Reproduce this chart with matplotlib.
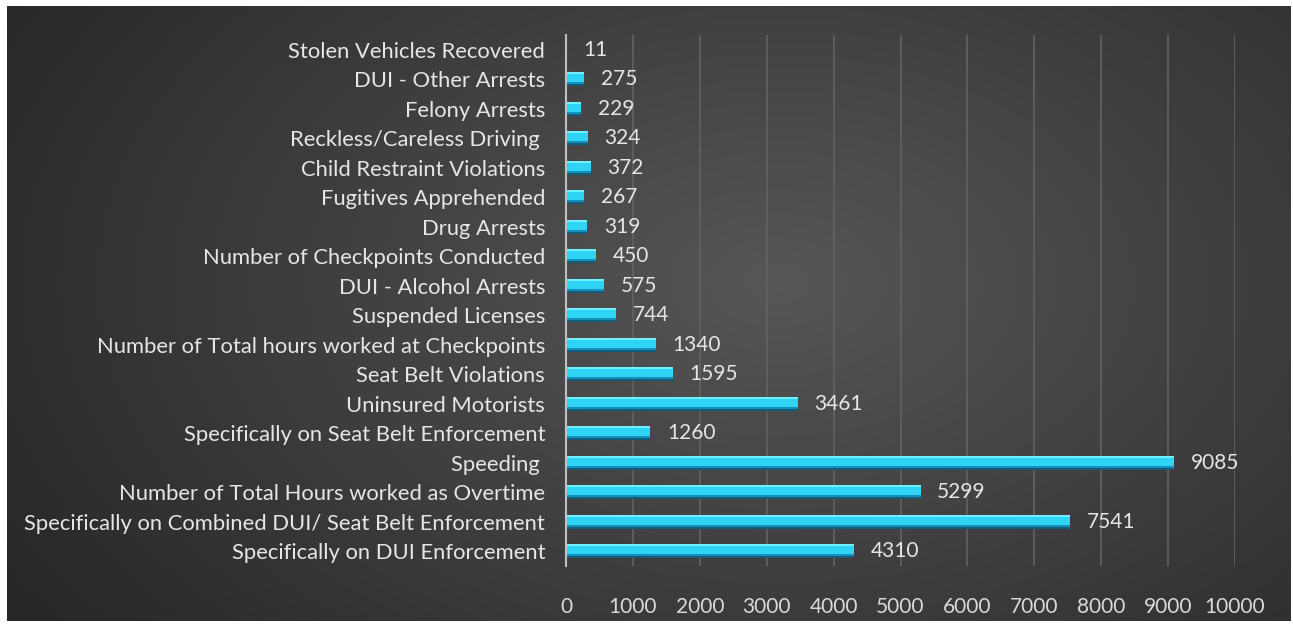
import matplotlib
matplotlib.use("Agg")
from matplotlib import pyplot as plt
import numpy as np

# Data (bottom to top as drawn)
categories = [
    "Specifically on DUI Enforcement",
    "Specifically on Combined DUI/ Seat Belt Enforcement",
    "Number of Total Hours worked as Overtime",
    "Speeding ",
    "Specifically on Seat Belt Enforcement",
    "Uninsured Motorists",
    "Seat Belt Violations",
    "Number of Total hours worked at Checkpoints",
    "Suspended Licenses",
    "DUI - Alcohol Arrests",
    "Number of Checkpoints Conducted",
    "Drug Arrests",
    "Fugitives Apprehended",
    "Child Restraint Violations",
    "Reckless/Careless Driving ",
    "Felony Arrests",
    "DUI - Other Arrests",
    "Stolen Vehicles Recovered",
]
values = [4310, 7541, 5299, 9085, 1260, 3461, 1595, 1340, 744, 575,
          450, 319, 267, 372, 324, 229, 275, 11]
xticks = [0, 1000, 2000, 3000, 4000, 5000, 6000, 7000, 8000, 9000, 10000]

plt.rcParams['font.family'] = ['Lato', 'DejaVu Sans']

W, H = 1293, 626
fig = plt.figure(figsize=(W / 100, H / 100), dpi=100)
fig.patch.set_facecolor("white")

# dark gradient background panel
bg = fig.add_axes([7 / W, 1 - 621 / H, (1291 - 7) / W, (621 - 6) / H])
yy, xx = np.mgrid[0:1:300j, 0:1:600j]
dist = np.sqrt(((xx - 0.6) * 1.2) ** 2 + ((yy - 0.45) * 0.9) ** 2)
shade = np.clip(0.34 - 0.22 * dist, 0.15, 0.34)
img = np.dstack([shade, shade, shade])
bg.imshow(img, aspect="auto", extent=[0, 1, 0, 1])
bg.set_axis_off()

ax = fig.add_axes([566 / W, 1 - 566 / H, (1235 - 566) / W, (566 - 35) / H])
ax.set_facecolor("none")
y = np.arange(len(categories))

# bevelled look: dark base, bright body, top highlight, dark bottom edge
bh = 0.47
ax.barh(y, values, height=bh, color="#1690b8", zorder=3)
ax.barh(y + 0.07, values, height=0.33, color="#2fd3f3", zorder=4)
ax.barh(y + 0.2, values, height=0.07, color="#70f0ff", zorder=5)
ax.barh(y - 0.2, values, height=0.07, color="#0d5f7d", zorder=5)

for yi, v in zip(y, values):
    ax.text(v + 250, yi, str(v), va="center", ha="left",
            color="#e6e6e6", fontsize=15)

ax.set_xlim(0, 10000)
ax.set_ylim(-0.5, len(categories) - 0.5)
ax.set_xticks(xticks)
ax.set_xticklabels([str(t) for t in xticks], color="#d9d9d9", fontsize=15)
ax.set_yticks(y)
ax.set_yticklabels(categories, color="#e6e6e6", fontsize=15.8)
ax.tick_params(axis="both", length=0)
ax.tick_params(axis="x", pad=22)
ax.tick_params(axis="y", pad=15)
ax.grid(axis="x", color="#626262", linewidth=1.2, zorder=0)
for s in ["top", "right", "bottom"]:
    ax.spines[s].set_visible(False)
ax.spines["left"].set_color("#bfbfbf")
ax.spines["left"].set_linewidth(1.5)
ax.spines["left"].set_zorder(6)

fig.savefig("out.png", dpi=100, facecolor="white")
